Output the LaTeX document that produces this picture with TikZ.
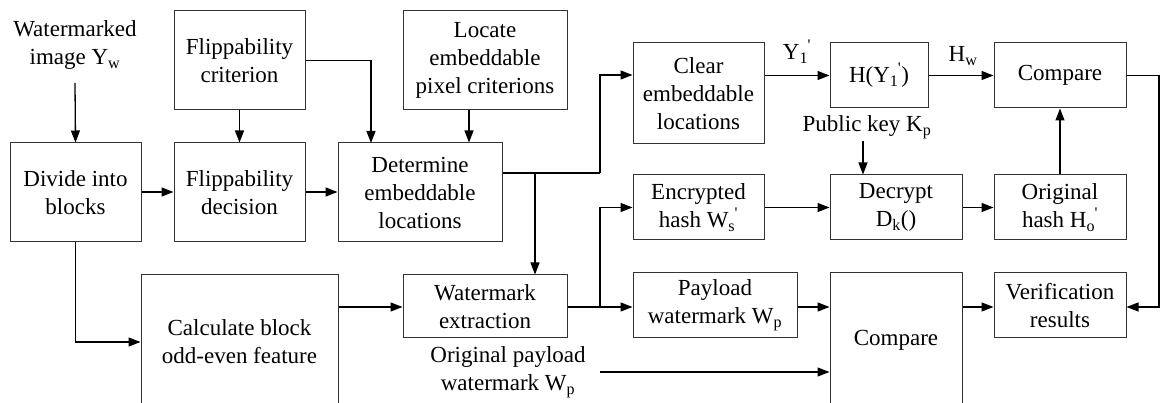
\documentclass[tikz,border=0pt]{standalone}
\usepackage{fontspec}
\setmainfont{Liberation Serif}
\usetikzlibrary{arrows.meta}
\newcommand\sbsp[2]{\textsubscript{#1}\kern-0.5pt\textsuperscript{#2}}
\begin{document}
\begin{tikzpicture}[x=1pt,y=-1pt,
  box/.style={draw=black!80,line width=1pt,inner sep=0pt,align=center,font=\fontsize{23}{28}\selectfont},
  lbl/.style={inner sep=0pt,align=center,font=\fontsize{23}{28}\selectfont},
  arr/.style={line width=1.3pt,-{Triangle[length=12pt,width=9pt]}},
  ln/.style={line width=1.3pt}]
\useasboundingbox (0,0) rectangle (1160,403);
\clip (0,0) rectangle (1160,403);
% nodes
\node[lbl] (wimg) at (75,45) {Watermarked\\image Y\textsubscript{w}};
\node[box,minimum width=131pt,minimum height=99pt] (divide) at (75.5,192.5) {Divide into\\blocks};
\node[box,minimum width=131pt,minimum height=99pt] (crit) at (239.5,60.5) {Flippability\\criterion};
\node[box,minimum width=131pt,minimum height=99pt] (dec) at (239.5,192.5) {Flippability\\decision};
\node[box,minimum width=164pt,minimum height=99pt] (det) at (420,192.5) {Determine\\embeddable\\locations};
\node[box,minimum width=164pt,minimum height=99pt] (loc) at (485,60.5) {Locate\\embeddable\\pixel criterions};
\node[box,minimum width=131pt,minimum height=101pt] (clear) at (698.5,93.5) {Clear\\embeddable\\locations};
\node[box,minimum width=131pt,minimum height=65pt] (enc) at (698.5,207.5) {Encrypted\\hash W\sbsp{s}{\textquotesingle}};
\node[box,minimum width=164pt,minimum height=63pt] (wext) at (485,306.5) {Watermark\\extraction};
\node[box,minimum width=197pt,minimum height=134pt] (calc) at (239.5,342) {Calculate block\\odd-even feature};
\node[box,minimum width=164pt,minimum height=65pt] (pay) at (715,305.5) {Payload\\watermark W\textsubscript{p}};
\node[box,minimum width=132pt,minimum height=134pt] (cmpb) at (896,340) {Compare};
\node[box,minimum width=132pt,minimum height=65pt] (ver) at (1060,305.5) {Verification\\results};
\node[box,minimum width=98pt,minimum height=65pt] (hy) at (879,75.5) {H(Y\sbsp{1}{\textquotesingle})};
\node[box,minimum width=132pt,minimum height=65pt] (cmpt) at (1060,75.5) {Compare};
\node[box,minimum width=132pt,minimum height=65pt] (decr) at (896,207.5) {Decrypt\\D\textsubscript{k}()};
\node[box,minimum width=132pt,minimum height=65pt] (orig) at (1060,207.5) {Original\\hash H\sbsp{o}{\textquotesingle}};
\node[lbl] (y1) at (797,52) {Y\sbsp{1}{\textquotesingle}};
\node[lbl] (hw) at (963,56) {H\textsubscript{w}};
\node[lbl] (pk) at (867,127) {Public key K\textsubscript{p}};
\node[lbl] (opw) at (508,372) {Original payload\\watermark W\textsubscript{p}};
% coordinates
\coordinate (j1) at (600,307);
\coordinate (j2) at (535,173);
\coordinate (opstart) at (600,372);
% connectors
\draw[arr] (75,83) -- (divide.north);
\draw[arr] (divide.east |- 0,192) -- (dec.west |- 0,192);
\draw[arr] (dec.east |- 0,192) -- (det.west |- 0,192);
\draw[arr] (crit.south) -- (dec.north);
\draw[arr] (crit.east) -- (371,60.5) -- (371,143);
\draw[arr] (loc.south -| 469,0) -- (det.north -| 469,0);
\draw[arr] (divide.south) -- (75.5,342) -- (calc.west);
\draw[arr] (calc.east |- 0,307) -- (wext.west |- 0,307);
\draw[ln] (det.east |- 0,173) -- (600,173);
\draw[arr] (600,173) -- (600,75) -- (clear.west |- 0,75);
\draw[arr] (j2) -- (wext.north -| j2);
\draw[ln] (wext.east |- j1) -- (j1);
\draw[arr] (j1) -- (pay.west |- j1);
\draw[arr] (j1) -- (600,207.5) -- (enc.west);
\draw[arr] (clear.east |- 0,75.5) -- (hy.west);
\draw[arr] (hy.east) -- (cmpt.west);
\draw[arr] (863,141) -- (decr.north -| 863,0);
\draw[arr] (enc.east) -- (decr.west);
\draw[arr] (decr.east) -- (orig.west);
\draw[arr] (orig.north) -- (cmpt.south);
\draw[arr] (pay.east |- 0,307) -- (cmpb.west |- 0,307);
\draw[arr] (cmpb.east |- 0,307) -- (ver.west |- 0,307);
\draw[arr] (opstart) -- (cmpb.west |- opstart);
\draw[arr] (cmpt.east) -- (1159,75.5) -- (1159,307) -- (ver.east |- 0,307);
\end{tikzpicture}
\end{document}
